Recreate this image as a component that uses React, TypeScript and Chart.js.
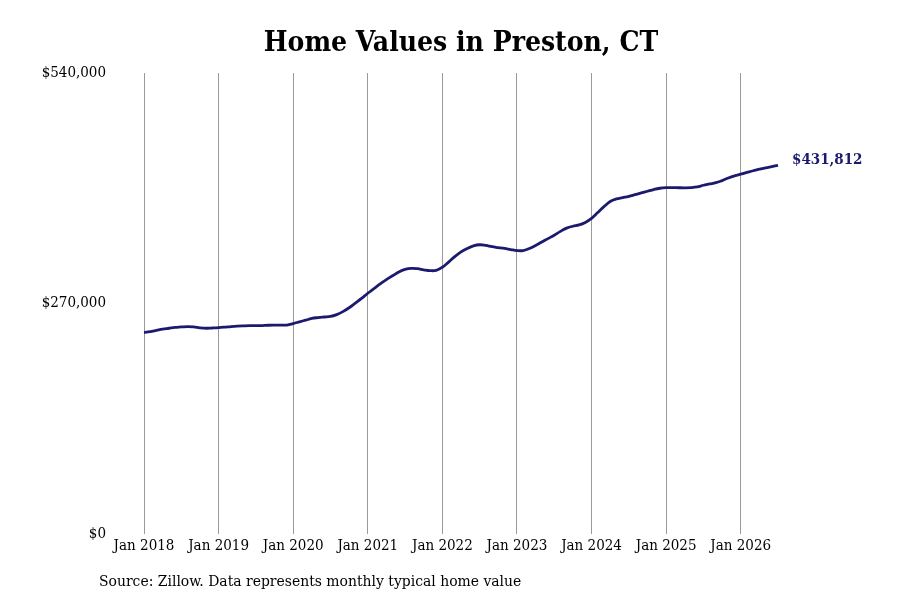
import React, { useEffect, useRef } from "react";
import { Chart, registerables, Plugin } from "chart.js";

Chart.register(...registerables);

const FONT = "'DejaVu Serif Condensed', 'DejaVu Serif', serif";
const LINE_COLOR = "#1b1a6e";

// Typical home value, monthly, Jan 2018 - Jul 2026 (in $1,000s)
const values2018 = [236, 237, 238.5, 240, 241, 242, 242.5, 243, 242.5, 241.5, 241, 241.3];
const values2019 = [241.7, 242.3, 243, 243.5, 243.8, 244, 244, 244.2, 244.5, 244.6, 244.6, 244.8];
const values2020 = [246.5, 248.5, 250.5, 252.5, 253.5, 254.2, 254.8, 257, 260.5, 265, 270.5, 276];
const values2021 = [282, 287.5, 293, 298, 302.5, 307, 310, 311.2, 310.8, 309.5, 308.5, 308.8];
const values2022 = [312.5, 318.5, 325, 330.5, 334.5, 337.5, 338.8, 338, 336.5, 335.5, 334.5, 333.2];
const values2023 = [332, 332, 334.5, 338, 342, 346, 350, 354.5, 358.3, 360.5, 362, 365];
const values2024 = [369.8, 376.5, 383.5, 389.5, 392.5, 394, 395.5, 397.5, 399.5, 401.5, 403.5, 405];
const values2025 = [405.7, 405.8, 405.6, 405.5, 405.7, 406.5, 408.5, 410, 411.5, 414, 417, 419.5];
const values2026 = [421.5, 423.5, 425.5, 427.3, 429, 430.4, 431.812];

const years = [2018, 2019, 2020, 2021, 2022, 2023, 2024, 2025, 2026];
const monthNames = ["Jan", "Feb", "Mar", "Apr", "May", "Jun", "Jul", "Aug", "Sep", "Oct", "Nov", "Dec"];

const yTicks = [0, 270000, 540000];

const values = [
  ...values2018,
  ...values2019,
  ...values2020,
  ...values2021,
  ...values2022,
  ...values2023,
  ...values2024,
  ...values2025,
  ...values2026,
].map((v) => Math.round(v * 1000));

const labels = values.map((_, i) => `${monthNames[i % 12]} ${years[Math.floor(i / 12)]}`);

const fmt = (v: number) => "$" + v.toLocaleString("en-US");

const textPlugin: Plugin<"line"> = {
  id: "texts",
  afterDraw(chart) {
    const ctx = chart.ctx;
    ctx.save();
    // title
    ctx.fillStyle = "#000";
    ctx.font = `bold 28px ${FONT}`;
    ctx.textAlign = "center";
    ctx.textBaseline = "middle";
    ctx.fillText("Home Values in Preston, CT", 461, 44);
    // source note
    ctx.font = `15.5px ${FONT}`;
    ctx.textAlign = "left";
    ctx.fillText("Source: Zillow. Data represents monthly typical home value", 99, 582);
    // last value label
    const meta = chart.getDatasetMeta(0);
    const last = meta.data[meta.data.length - 1];
    const ds = chart.data.datasets[0].data as number[];
    ctx.fillStyle = LINE_COLOR;
    ctx.font = `bold 15px ${FONT}`;
    ctx.fillText(fmt(ds[ds.length - 1]), last.x + 14, last.y - 5);
    ctx.restore();
  },
};

export default function App() {
  const canvasRef = useRef<HTMLCanvasElement>(null);

  useEffect(() => {
    if (!canvasRef.current) return;
    const chart = new Chart(canvasRef.current, {
      type: "line",
      data: {
        labels,
        datasets: [
          {
            data: values,
            borderColor: LINE_COLOR,
            borderWidth: 2.8,
            pointRadius: 0,
            tension: 0.4,
            fill: false,
          },
        ],
      },
      options: {
        animation: false,
        responsive: true,
        maintainAspectRatio: false,
        layout: { padding: { top: 73, left: 42, right: 122, bottom: 0 } },
        plugins: {
          legend: { display: false },
          tooltip: { enabled: false },
        },
        scales: {
          x: {
            type: "category",
            border: { display: false },
            grid: {
              drawTicks: false,
              lineWidth: 1,
              color: (c) => (c.index % 12 === 0 ? "#9a9a9a" : "rgba(0,0,0,0)"),
            },
            ticks: {
              autoSkip: false,
              minRotation: 0,
              maxRotation: 0,
              padding: 3,
              color: "#000",
              font: { family: FONT, size: 15 },
              callback: (_v, i) => (i % 12 === 0 ? labels[i] : ""),
            },
            afterFit: (s) => {
              s.height = 66;
            },
          },
          y: {
            min: 0,
            max: 540000,
            border: { display: false },
            grid: { display: false, drawTicks: false },
            afterBuildTicks: (s) => {
              s.ticks = yTicks.map((v) => ({ value: v }));
            },
            ticks: {
              padding: 38,
              color: "#000",
              font: { family: FONT, size: 15 },
              callback: (v) => fmt(Number(v)),
            },
            afterFit: (s) => {
              s.width = 102;
            },
          },
        },
      },
      plugins: [textPlugin],
    });
    return () => chart.destroy();
  }, []);

  return (
    <div
      style={{
        position: "fixed",
        left: 0,
        top: 0,
        width: 900,
        height: 600,
        background: "#fff",
      }}
    >
      <canvas ref={canvasRef} />
    </div>
  );
}
